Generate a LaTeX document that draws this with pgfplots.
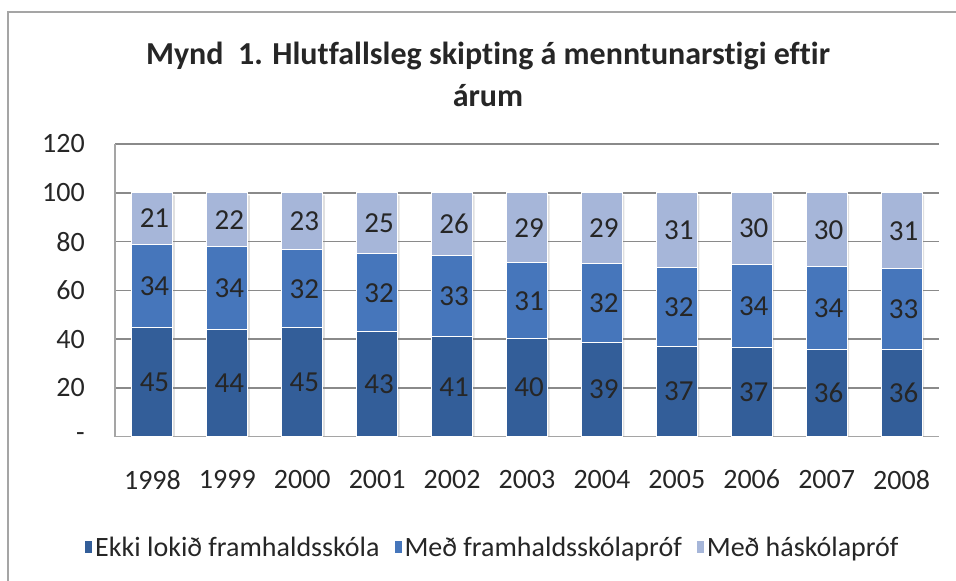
\documentclass[border=0pt]{standalone}
\usepackage{pgfplots}
\pgfplotsset{compat=1.18}
\usepackage{pgfplotstable}
\usepackage{fontspec}
\setmainfont{Carlito}[Ligatures=NoCommon]
\definecolor{cA}{HTML}{335E99}
\definecolor{cB}{HTML}{4676BB}
\definecolor{cC}{HTML}{A6B6D9}
\definecolor{gridc}{HTML}{8A8A8A}
\definecolor{framec}{HTML}{A5A5A5}
\definecolor{txt}{HTML}{262626}
\pgfplotstableread{
x b m t lb lm lt
0 44.6 34.4 21.0 45 34 21
1 43.9 34.0 22.1 44 34 22
2 44.7 31.9 23.4 45 32 23
3 43.0 32.0 25.0 43 32 25
4 41.0 33.2 25.8 41 33 26
5 40.2 31.1 28.7 40 31 29
6 38.6 32.4 29.0 39 32 29
7 37.0 32.4 30.6 37 32 31
8 36.6 34.0 29.4 37 34 30
9 35.8 33.8 30.4 36 34 30
10 35.6 33.3 31.1 36 33 31
}\data
\pgfplotsset{
  common/.style={
    at={(115bp,144.3bp)}, anchor=south west,
    scale only axis, width=824bp, height=292.7bp,
    xmin=-0.5, xmax=10.5, ymin=0, ymax=120,
  }
}
\begin{document}
\begin{tikzpicture}
\useasboundingbox (0,0) rectangle (956bp,581bp);
\draw[framec, line width=1.2bp] (8bp,0) -- (8bp,569bp) -- (956bp,569bp);
\node[font=\fontsize{32bp}{42bp}\selectfont\bfseries, align=center, text=txt] at (488bp,507bp)
  {Mynd\ \ 1. Hlutfallsleg skipting á menntunarstigi eftir\\árum};
% soft shadow of the bars
\begin{axis}[common, hide axis, ybar, bar width=42bp]
\addplot[fill=black, fill opacity=0.12, draw=none, xshift=1.5bp, yshift=-2.5bp]
  table[x=x, y expr=\thisrow{b}+\thisrow{m}+\thisrow{t}]{\data};
\end{axis}
\begin{axis}[
  common,
  ybar stacked, bar width=41bp,
  axis lines*=left,
  axis line style={framec, line width=1.2bp},
  ymajorgrids, grid style={gridc, line width=1.5bp},
  ytick={0,20,40,60,80,100,120},
  yticklabels={{-\hspace{11bp}},20,40,60,80,100,120},
  xtick={0,...,10},
  xticklabels={1998,1999,2000,2001,2002,2003,2004,2005,2006,2007,2008},
  major tick length=0pt,
  tick label style={font=\fontsize{28bp}{32bp}\selectfont, text=txt},
  yticklabel style={anchor=east, inner sep=0pt, xshift=-30bp},
  xticklabel style={anchor=north, inner sep=0pt, yshift=-33bp},
  legend columns=3,
  legend style={at={(0.458,-0.379)}, anchor=center, draw=none, fill=none,
    font=\fontsize{28bp}{32bp}\selectfont, text=txt,
    /tikz/every even column/.append style={column sep=12bp}},
  legend image code/.code={\fill[#1] (0bp,-6bp) rectangle (8bp,7bp);},
]
\addplot[fill=cA, draw=white, line width=1bp] table[x=x,y=b]{\data};
\addlegendentry{Ekki lokið framhaldsskóla}
\addplot[fill=cB, draw=white, line width=1bp] table[x=x,y=m]{\data};
\addlegendentry{Með framhaldsskólapróf}
\addplot[fill=cC, draw=white, line width=1bp] table[x=x,y=t]{\data};
\addlegendentry{Með háskólapróf}
\end{axis}
\begin{axis}[
  common,
  hide axis,
  nodes near coords, point meta=explicit symbolic,
  every node near coord/.append style={anchor=center, inner sep=0pt, xshift=2bp,
    font=\fontsize{29bp}{32bp}\selectfont, text=txt},
]
\addplot[only marks, mark=*, mark size=0pt, mark options={draw=none,fill=none}]
  table[x=x, y expr=\thisrow{b}/2, meta=lb]{\data};
\addplot[only marks, mark=*, mark size=0pt, mark options={draw=none,fill=none}]
  table[x=x, y expr=\thisrow{b}+\thisrow{m}/2, meta=lm]{\data};
\addplot[only marks, mark=*, mark size=0pt, mark options={draw=none,fill=none}]
  table[x=x, y expr=\thisrow{b}+\thisrow{m}+\thisrow{t}/2, meta=lt]{\data};
\end{axis}
\end{tikzpicture}
\end{document}
